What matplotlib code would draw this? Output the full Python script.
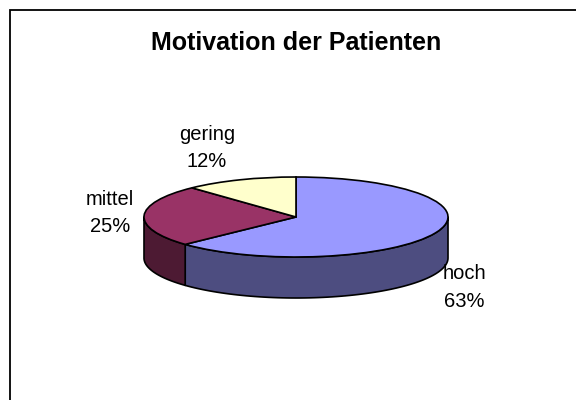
import numpy as np
import matplotlib
matplotlib.use('Agg')
import matplotlib.pyplot as plt
from matplotlib.lines import Line2D

labels = ['hoch', 'mittel', 'gering']
percents = ['63%', '25%', '12%']
values = [63, 25, 12]
top_colors = ['#9999FF', '#993366', '#FFFFCC']
side_colors = ['#4D4D80', '#4D1A33', '#808066']

plt.rcParams['font.family'] = ['Liberation Sans', 'DejaVu Sans']

# pixel layout of the ellipse
cx, cy, rx, ry = 296, 217, 152, 40
depth = 41 / ry

fig = plt.figure(figsize=(5.76, 4.0), dpi=100, facecolor='white')
ax = fig.add_axes([0, 0, 1, 1])

# side wall first, only the front half can be seen
start = 90.0
for val, col in zip(values, side_colors):
    end = start - val / sum(values) * 360
    lo = max(end, -180)
    hi = min(start, 0)
    if lo < hi:
        t = np.radians(np.linspace(hi, lo, 80))
        x = np.cos(t)
        y = np.sin(t)
        ax.fill(np.r_[x, x[::-1]], np.r_[y, y[::-1] - depth], facecolor=col,
                edgecolor='black', linewidth=1.2, joinstyle='round')
    start = end

ax.pie(values, colors=top_colors, startangle=90, counterclock=False,
       wedgeprops={'edgecolor': 'black', 'linewidth': 1.2})

# pie() forces equal aspect and its own limits, go back to pixel scale
ax.set_aspect('auto')
ax.set_xlim((0 - cx) / rx, (576 - cx) / rx)
ax.set_ylim((cy - 400) / ry, cy / ry)
ax.axis('off')

label_px = [(464, 287.5), (110, 213), (207, 148)]
for name, pct, (px, py) in zip(labels, percents, label_px):
    ax.text((px - cx) / rx, (cy - py) / ry, name + '\n' + pct, ha='center', va='center',
            fontsize=14.5, linespacing=1.55, color='black', zorder=10)

fig.text(296 / 576, 1 - 43 / 400, 'Motivation der Patienten', ha='center',
         va='center', fontsize=18, fontweight='bold', color='black')

# chart frame, cut off at the right and bottom of the image
fig.add_artist(Line2D([9.5 / 576, 9.5 / 576, 1], [0, 1 - 10 / 400, 1 - 10 / 400],
                      color='black', linewidth=1.3, solid_joinstyle='miter'))

fig.savefig('out.png', dpi=100)
